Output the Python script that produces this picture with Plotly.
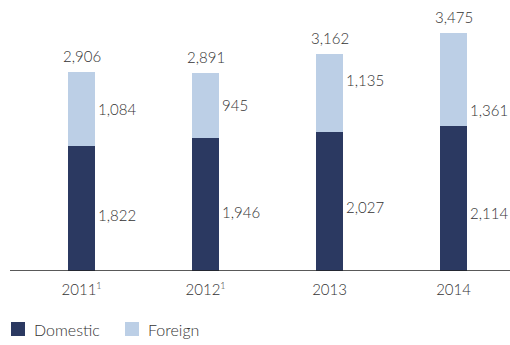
import plotly.graph_objects as go

categories = ["2011<sup><span style='font-size:9px'>1</span></sup>",
              "2012<sup><span style='font-size:9px'>1</span></sup>", "2013", "2014"]
domestic = [1822, 1946, 2027, 2114]
foreign = [1084, 945, 1135, 1361]
totals = [2906, 2891, 3162, 3475]
series_names = ["Domestic", "Foreign"]

# label placement within each segment (fraction of segment height, from its bottom)
dom_frac = [0.45, 0.44, 0.46, 0.40]
for_frac = [0.50, 0.50, 0.67, 0.17]

C_DOM = "#2b3961"
C_FOR = "#bccfe6"
TXT = "#333333"
FONT = "Lato, Liberation Sans, Arial, sans-serif"
W = 300

x = list(range(len(categories)))

fig = go.Figure()
fig.add_bar(x=x, y=domestic, name=series_names[0], marker_color=C_DOM, width=0.218, marker_line_width=0)
fig.add_bar(x=x, y=foreign, name=series_names[1], marker_color=C_FOR, width=0.218, marker_line_width=0)

fnt = dict(family=FONT, size=15, color=TXT, weight=W)

def fmt(v):
    return f"{v:,}"

for i in x:
    fig.add_annotation(x=i, y=totals[i], text=fmt(totals[i]), showarrow=False,
                       yanchor="middle", yshift=16, font=fnt)
    fig.add_annotation(x=i + 0.109, y=domestic[i] * dom_frac[i], text=fmt(domestic[i]),
                       showarrow=False, xanchor="left", xshift=1, font=fnt)
    fig.add_annotation(x=i + 0.109, y=domestic[i] + foreign[i] * for_frac[i], text=fmt(foreign[i]),
                       showarrow=False, xanchor="left", xshift=1, font=fnt)

# manual legend (bottom-left)
leg_font = dict(family=FONT, size=16, color=TXT, weight=W)
leg_items = [(series_names[0], C_DOM, 11), (series_names[1], C_FOR, 125)]
for name, col, px0 in leg_items:
    fig.add_shape(type="rect", xref="paper", yref="paper",
                  x0=(px0 - 10) / 500, x1=(px0 + 4) / 500,
                  y0=-(322 - 271) / 271, y1=-(336 - 271) / 271,
                  fillcolor=col, line_width=0)
    fig.add_annotation(xref="paper", yref="paper", x=(px0 + 11) / 500, y=-(329 - 271) / 271,
                       text=name, showarrow=False, xanchor="left", yanchor="middle",
                       font=leg_font)

fig.update_layout(
    barmode="stack",
    width=510, height=345,
    margin=dict(l=10, r=0, t=0, b=74),
    plot_bgcolor="white", paper_bgcolor="white",
    font=dict(family=FONT, size=15, color=TXT, weight=W),
    showlegend=False,
    xaxis=dict(range=[-0.577, 3.455], tickmode="array", tickvals=x, ticktext=categories,
               showgrid=False, zeroline=False, showline=False, ticks="",
               ticklabelstandoff=8,
               tickfont=dict(family=FONT, size=15, color=TXT, weight=W)),
    yaxis=dict(range=[0, 3956], visible=False, showgrid=False, zeroline=False),
)
fig.add_shape(type="line", xref="paper", yref="y", x0=0, x1=1, y0=0, y1=0,
              line=dict(color="#222222", width=1.5))

fig.write_html("out.html")
